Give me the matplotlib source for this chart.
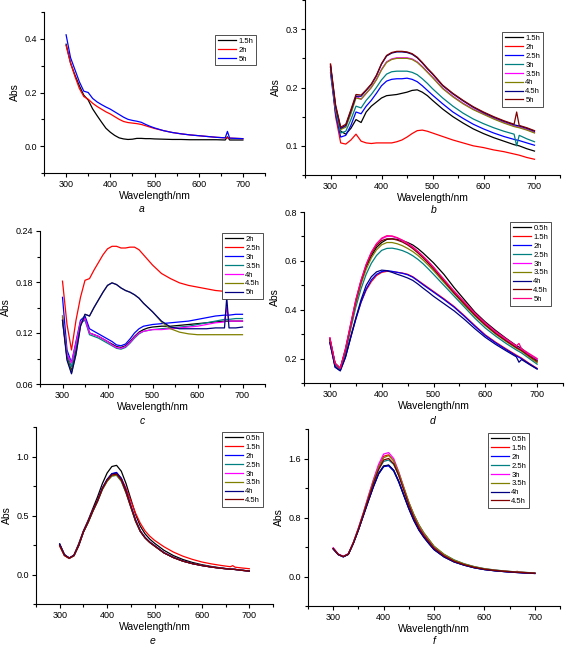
import matplotlib
matplotlib.use('Agg')
import matplotlib.pyplot as plt
from matplotlib.ticker import MultipleLocator, FormatStrFormatter

plt.rcParams['font.family'] = ['Liberation Sans', 'DejaVu Sans']

# shared wavelength grid (nm)
wavelength = [300, 310, 320, 330, 340, 350, 360, 370, 380, 390, 400, 410, 420, 430, 440, 450, 460,
              470, 480, 490, 500, 520, 540, 560, 580, 600, 620, 640, 660, 665, 670, 685, 700]

# panel a
a_labels = ['1.5h', '2h', '5h']
a_15 = [0.38, 0.31, 0.265, 0.225, 0.19, 0.172, 0.139, 0.114, 0.09, 0.067, 0.052, 0.04, 0.031, 0.027, 0.025, 0.026, 0.029,
        0.029, 0.028, 0.028, 0.027, 0.026, 0.025, 0.025, 0.024, 0.024, 0.024, 0.024, 0.023, 0.035, 0.023, 0.023, 0.023]
a_2 = [0.375, 0.31, 0.26, 0.215, 0.185, 0.175, 0.16, 0.148, 0.138, 0.128, 0.12, 0.11, 0.1, 0.092, 0.088, 0.086, 0.084,
       0.081, 0.076, 0.071, 0.066, 0.058, 0.051, 0.046, 0.042, 0.039, 0.036, 0.033, 0.031, 0.031, 0.03, 0.029, 0.028]
a_5 = [0.415, 0.33, 0.285, 0.24, 0.205, 0.2, 0.178, 0.165, 0.155, 0.146, 0.138, 0.128, 0.118, 0.108, 0.1, 0.096, 0.093,
       0.089, 0.081, 0.074, 0.068, 0.058, 0.051, 0.046, 0.042, 0.039, 0.036, 0.033, 0.031, 0.055, 0.03, 0.029, 0.028]

# panel b
b_labels = ['1.5h', '2h', '2.5h', '3h', '3.5h', '4h', '4.5h', '5h']
b_15 = [0.235, 0.16, 0.125, 0.12, 0.13, 0.145, 0.14, 0.158, 0.168, 0.175, 0.182, 0.186, 0.187, 0.188, 0.19, 0.192, 0.195,
        0.196, 0.192, 0.186, 0.178, 0.163, 0.15, 0.139, 0.129, 0.121, 0.114, 0.108, 0.102, 0.101, 0.1, 0.095, 0.091]
b_2 = [0.24, 0.15, 0.105, 0.103, 0.11, 0.12, 0.108, 0.105, 0.104, 0.105, 0.105, 0.105, 0.105, 0.107, 0.11, 0.115, 0.121,
       0.126, 0.127, 0.125, 0.122, 0.116, 0.11, 0.105, 0.1, 0.097, 0.093, 0.09, 0.086, 0.085, 0.084, 0.08, 0.077]
b_25 = [0.225, 0.155, 0.115, 0.118, 0.135, 0.158, 0.155, 0.168, 0.178, 0.19, 0.203, 0.211, 0.214, 0.215, 0.215, 0.216, 0.214,
        0.21, 0.203, 0.195, 0.187, 0.172, 0.158, 0.147, 0.137, 0.129, 0.122, 0.116, 0.111, 0.11, 0.109, 0.105, 0.101]
b_3 = [0.23, 0.16, 0.122, 0.125, 0.145, 0.168, 0.165, 0.178, 0.188, 0.2, 0.213, 0.223, 0.227, 0.228, 0.228, 0.228, 0.226,
       0.222, 0.215, 0.207, 0.198, 0.182, 0.168, 0.156, 0.146, 0.138, 0.131, 0.125, 0.12, 0.1, 0.118, 0.112, 0.107]
b_35 = [0.235, 0.165, 0.13, 0.133, 0.157, 0.185, 0.18, 0.19, 0.2, 0.214, 0.231, 0.244, 0.249, 0.251, 0.251, 0.251, 0.249,
        0.244, 0.236, 0.227, 0.218, 0.199, 0.185, 0.173, 0.163, 0.155, 0.147, 0.14, 0.134, 0.133, 0.132, 0.128, 0.123]
b_4 = [0.235, 0.165, 0.128, 0.132, 0.155, 0.182, 0.18, 0.19, 0.2, 0.213, 0.23, 0.243, 0.248, 0.25, 0.25, 0.25, 0.248,
       0.243, 0.235, 0.226, 0.217, 0.198, 0.184, 0.172, 0.162, 0.154, 0.146, 0.139, 0.133, 0.132, 0.131, 0.127, 0.122]
b_45 = [0.238, 0.168, 0.13, 0.135, 0.16, 0.185, 0.185, 0.195, 0.205, 0.22, 0.24, 0.254, 0.259, 0.261, 0.261, 0.26, 0.257,
        0.251, 0.242, 0.232, 0.223, 0.203, 0.189, 0.177, 0.166, 0.157, 0.149, 0.142, 0.136, 0.135, 0.134, 0.13, 0.125]
b_5 = [0.24, 0.17, 0.132, 0.137, 0.162, 0.188, 0.187, 0.196, 0.206, 0.221, 0.241, 0.255, 0.26, 0.262, 0.262, 0.261, 0.258,
       0.252, 0.243, 0.233, 0.224, 0.204, 0.19, 0.178, 0.167, 0.158, 0.15, 0.143, 0.137, 0.158, 0.135, 0.131, 0.126]

# panel c
c_labels = ['2h', '2.5h', '3h', '3.5h', '4h', '4.5h', '5h']
c_2 = [0.135, 0.092, 0.075, 0.1, 0.13, 0.138, 0.12, 0.118, 0.116, 0.113, 0.11, 0.107, 0.104, 0.103, 0.105, 0.11, 0.116,
       0.121, 0.124, 0.126, 0.127, 0.128, 0.128, 0.129, 0.13, 0.131, 0.132, 0.133, 0.134, 0.134, 0.134, 0.134, 0.134]
c_25 = [0.181, 0.13, 0.1, 0.135, 0.162, 0.182, 0.184, 0.194, 0.203, 0.212, 0.219, 0.222, 0.222, 0.22, 0.22, 0.221, 0.221,
        0.218, 0.212, 0.206, 0.2, 0.19, 0.184, 0.179, 0.176, 0.174, 0.172, 0.17, 0.169, 0.169, 0.169, 0.168, 0.168]
c_3 = [0.162, 0.1, 0.085, 0.11, 0.135, 0.14, 0.125, 0.122, 0.119, 0.116, 0.113, 0.11, 0.106, 0.105, 0.107, 0.113, 0.12,
       0.125, 0.128, 0.129, 0.13, 0.131, 0.132, 0.133, 0.134, 0.136, 0.138, 0.14, 0.141, 0.141, 0.141, 0.142, 0.142]
c_35 = [0.138, 0.095, 0.08, 0.105, 0.132, 0.135, 0.118, 0.116, 0.114, 0.111, 0.108, 0.105, 0.102, 0.101, 0.103, 0.108, 0.114,
        0.119, 0.122, 0.123, 0.124, 0.125, 0.126, 0.127, 0.128, 0.13, 0.132, 0.134, 0.136, 0.136, 0.136, 0.137, 0.137]
c_4 = [0.14, 0.095, 0.085, 0.108, 0.133, 0.137, 0.12, 0.118, 0.116, 0.113, 0.11, 0.106, 0.103, 0.102, 0.104, 0.109, 0.115,
       0.12, 0.122, 0.123, 0.124, 0.124, 0.125, 0.126, 0.127, 0.128, 0.13, 0.132, 0.133, 0.15, 0.134, 0.134, 0.134]
c_45 = [0.14, 0.09, 0.073, 0.095, 0.128, 0.142, 0.14, 0.15, 0.159, 0.168, 0.176, 0.179, 0.177, 0.173, 0.17, 0.168, 0.165,
        0.161, 0.155, 0.15, 0.145, 0.133, 0.125, 0.121, 0.119, 0.118, 0.118, 0.118, 0.118, 0.118, 0.118, 0.118, 0.118]
c_5 = [0.135, 0.088, 0.072, 0.095, 0.128, 0.142, 0.14, 0.15, 0.159, 0.168, 0.176, 0.179, 0.177, 0.173, 0.17, 0.168, 0.165,
       0.161, 0.155, 0.15, 0.145, 0.134, 0.127, 0.125, 0.125, 0.125, 0.125, 0.126, 0.126, 0.162, 0.126, 0.126, 0.127]

# panel d
d_labels = ['0.5h', '1.5h', '2h', '2.5h', '3h', '3.5h', '4h', '4.5h', '5h']
d_05 = [0.28, 0.18, 0.16, 0.23, 0.33, 0.43, 0.51, 0.575, 0.62, 0.655, 0.675, 0.688, 0.69, 0.688, 0.683, 0.675, 0.665,
        0.65, 0.632, 0.612, 0.592, 0.545, 0.49, 0.44, 0.39, 0.35, 0.315, 0.283, 0.253, 0.247, 0.241, 0.215, 0.193]
d_15 = [0.27, 0.17, 0.155, 0.21, 0.29, 0.365, 0.43, 0.48, 0.515, 0.54, 0.553, 0.557, 0.556, 0.553, 0.55, 0.545, 0.535,
        0.52, 0.505, 0.49, 0.475, 0.445, 0.413, 0.375, 0.335, 0.297, 0.267, 0.24, 0.214, 0.208, 0.202, 0.18, 0.16]
d_2 = [0.265, 0.165, 0.15, 0.205, 0.285, 0.36, 0.43, 0.485, 0.522, 0.545, 0.556, 0.56, 0.557, 0.553, 0.549, 0.543, 0.533,
       0.518, 0.502, 0.487, 0.472, 0.442, 0.41, 0.372, 0.332, 0.294, 0.264, 0.237, 0.211, 0.205, 0.199, 0.178, 0.158]
d_25 = [0.275, 0.175, 0.155, 0.225, 0.32, 0.41, 0.485, 0.545, 0.59, 0.622, 0.643, 0.651, 0.652, 0.648, 0.642, 0.633, 0.621,
        0.606, 0.588, 0.567, 0.545, 0.5, 0.455, 0.41, 0.365, 0.325, 0.292, 0.262, 0.235, 0.229, 0.223, 0.2, 0.177]
d_3 = [0.285, 0.18, 0.16, 0.24, 0.34, 0.44, 0.52, 0.585, 0.635, 0.67, 0.69, 0.7, 0.7, 0.693, 0.683, 0.67, 0.655,
       0.636, 0.616, 0.595, 0.572, 0.522, 0.472, 0.427, 0.382, 0.342, 0.307, 0.277, 0.248, 0.242, 0.236, 0.216, 0.197]
d_35 = [0.28, 0.18, 0.158, 0.235, 0.33, 0.425, 0.505, 0.565, 0.612, 0.645, 0.666, 0.675, 0.675, 0.67, 0.662, 0.651, 0.638,
        0.622, 0.603, 0.582, 0.56, 0.512, 0.465, 0.418, 0.374, 0.335, 0.3, 0.27, 0.242, 0.236, 0.23, 0.206, 0.183]
d_4 = [0.265, 0.165, 0.15, 0.205, 0.285, 0.365, 0.44, 0.5, 0.535, 0.555, 0.562, 0.56, 0.553, 0.545, 0.538, 0.53, 0.52,
       0.505, 0.488, 0.472, 0.455, 0.425, 0.395, 0.36, 0.322, 0.287, 0.258, 0.232, 0.207, 0.185, 0.196, 0.176, 0.157]
d_45 = [0.28, 0.18, 0.16, 0.235, 0.335, 0.435, 0.515, 0.58, 0.63, 0.663, 0.683, 0.69, 0.69, 0.685, 0.677, 0.665, 0.65,
        0.632, 0.612, 0.59, 0.567, 0.518, 0.468, 0.423, 0.378, 0.338, 0.303, 0.273, 0.245, 0.239, 0.233, 0.21, 0.188]
d_5 = [0.285, 0.18, 0.16, 0.24, 0.34, 0.44, 0.52, 0.585, 0.635, 0.67, 0.693, 0.703, 0.702, 0.695, 0.685, 0.672, 0.657,
       0.639, 0.619, 0.598, 0.575, 0.525, 0.476, 0.431, 0.386, 0.346, 0.311, 0.281, 0.252, 0.262, 0.24, 0.22, 0.2]

# panel e
e_labels = ['0.5h', '1.5h', '2h', '2.5h', '3h', '3.5h', '4h', '4.5h']
e_05 = [0.26, 0.17, 0.138, 0.165, 0.26, 0.37, 0.46, 0.56, 0.66, 0.77, 0.86, 0.915, 0.925, 0.875, 0.77, 0.64, 0.51,
        0.41, 0.345, 0.3, 0.265, 0.205, 0.16, 0.127, 0.102, 0.083, 0.068, 0.056, 0.046, 0.044, 0.042, 0.036, 0.03]
e_15 = [0.24, 0.16, 0.135, 0.16, 0.25, 0.365, 0.45, 0.545, 0.63, 0.73, 0.8, 0.845, 0.855, 0.815, 0.73, 0.625, 0.52,
        0.435, 0.37, 0.325, 0.29, 0.235, 0.19, 0.155, 0.128, 0.106, 0.09, 0.077, 0.066, 0.075, 0.062, 0.055, 0.049]
e_2 = [0.255, 0.165, 0.14, 0.16, 0.245, 0.36, 0.445, 0.54, 0.625, 0.73, 0.805, 0.855, 0.865, 0.815, 0.71, 0.585, 0.465,
       0.37, 0.315, 0.275, 0.245, 0.185, 0.145, 0.115, 0.093, 0.077, 0.064, 0.054, 0.046, 0.045, 0.044, 0.036, 0.03]
e_25 = [0.25, 0.165, 0.14, 0.16, 0.245, 0.36, 0.44, 0.535, 0.62, 0.72, 0.79, 0.835, 0.84, 0.79, 0.69, 0.57, 0.45,
        0.365, 0.31, 0.272, 0.242, 0.183, 0.143, 0.113, 0.092, 0.076, 0.063, 0.053, 0.045, 0.044, 0.043, 0.035, 0.029]
e_3 = [0.25, 0.165, 0.14, 0.16, 0.245, 0.36, 0.445, 0.54, 0.625, 0.728, 0.8, 0.848, 0.855, 0.805, 0.7, 0.578, 0.458,
       0.368, 0.312, 0.273, 0.243, 0.184, 0.144, 0.114, 0.092, 0.076, 0.063, 0.053, 0.045, 0.044, 0.043, 0.035, 0.029]
e_35 = [0.245, 0.162, 0.138, 0.158, 0.243, 0.358, 0.44, 0.535, 0.62, 0.72, 0.79, 0.835, 0.843, 0.793, 0.692, 0.572, 0.452,
        0.365, 0.31, 0.271, 0.241, 0.183, 0.143, 0.113, 0.092, 0.076, 0.063, 0.053, 0.045, 0.044, 0.043, 0.035, 0.029]
e_4 = [0.255, 0.167, 0.14, 0.162, 0.248, 0.362, 0.448, 0.543, 0.628, 0.732, 0.805, 0.853, 0.86, 0.81, 0.705, 0.58, 0.46,
       0.368, 0.313, 0.274, 0.244, 0.184, 0.144, 0.114, 0.092, 0.076, 0.063, 0.053, 0.045, 0.044, 0.043, 0.035, 0.029]
e_45 = [0.245, 0.162, 0.138, 0.16, 0.245, 0.36, 0.445, 0.54, 0.625, 0.725, 0.797, 0.843, 0.85, 0.8, 0.697, 0.575, 0.455,
        0.366, 0.311, 0.272, 0.242, 0.183, 0.143, 0.113, 0.092, 0.076, 0.063, 0.053, 0.045, 0.044, 0.043, 0.035, 0.029]

# panel f
f_labels = ['0.5h', '1.5h', '2h', '2.5h', '3h', '3.5h', '4h', '4.5h']
f_05 = [0.38, 0.3, 0.27, 0.3, 0.45, 0.63, 0.83, 1.03, 1.23, 1.4, 1.5, 1.51, 1.44, 1.29, 1.11, 0.93, 0.77,
        0.64, 0.54, 0.45, 0.37, 0.27, 0.2, 0.155, 0.12, 0.095, 0.079, 0.067, 0.057, 0.055, 0.053, 0.047, 0.042]
f_15 = [0.38, 0.3, 0.27, 0.305, 0.46, 0.65, 0.86, 1.08, 1.3, 1.49, 1.63, 1.65, 1.57, 1.4, 1.2, 1.0, 0.83,
        0.69, 0.58, 0.49, 0.4, 0.29, 0.215, 0.165, 0.128, 0.102, 0.085, 0.072, 0.061, 0.07, 0.058, 0.052, 0.046]
f_2 = [0.37, 0.295, 0.265, 0.3, 0.45, 0.63, 0.83, 1.03, 1.22, 1.39, 1.49, 1.5, 1.43, 1.28, 1.1, 0.92, 0.76,
       0.63, 0.53, 0.445, 0.365, 0.265, 0.197, 0.153, 0.118, 0.094, 0.078, 0.066, 0.056, 0.054, 0.052, 0.046, 0.041]
f_25 = [0.38, 0.3, 0.27, 0.305, 0.455, 0.64, 0.845, 1.06, 1.27, 1.45, 1.56, 1.58, 1.52, 1.37, 1.19, 1.0, 0.84,
        0.7, 0.59, 0.5, 0.41, 0.3, 0.225, 0.172, 0.134, 0.107, 0.089, 0.075, 0.064, 0.062, 0.06, 0.054, 0.048]
f_3 = [0.39, 0.305, 0.275, 0.31, 0.465, 0.66, 0.87, 1.1, 1.32, 1.52, 1.66, 1.68, 1.6, 1.42, 1.21, 1.0, 0.83,
       0.69, 0.58, 0.49, 0.4, 0.29, 0.215, 0.165, 0.128, 0.102, 0.085, 0.072, 0.061, 0.059, 0.057, 0.051, 0.045]
f_35 = [0.38, 0.3, 0.27, 0.305, 0.46, 0.65, 0.86, 1.08, 1.3, 1.48, 1.61, 1.64, 1.57, 1.41, 1.21, 1.01, 0.84,
        0.7, 0.59, 0.5, 0.41, 0.3, 0.222, 0.17, 0.132, 0.105, 0.087, 0.074, 0.063, 0.061, 0.059, 0.053, 0.047]
f_4 = [0.375, 0.298, 0.268, 0.3, 0.45, 0.63, 0.83, 1.03, 1.22, 1.39, 1.49, 1.51, 1.44, 1.29, 1.1, 0.92, 0.76,
       0.63, 0.53, 0.445, 0.365, 0.265, 0.197, 0.153, 0.118, 0.094, 0.078, 0.066, 0.056, 0.054, 0.052, 0.046, 0.041]
f_45 = [0.38, 0.3, 0.27, 0.303, 0.455, 0.64, 0.85, 1.06, 1.27, 1.45, 1.58, 1.6, 1.53, 1.37, 1.17, 0.97, 0.8,
        0.66, 0.555, 0.47, 0.385, 0.28, 0.207, 0.16, 0.124, 0.099, 0.082, 0.07, 0.06, 0.058, 0.056, 0.05, 0.044]

# Origin-like default line colours
origin_colors = ['#000000', '#ff0000', '#0000ff', '#008080', '#ff00ff', '#808000', '#000080', '#800000', '#ff0080']

W, H = 565, 647
fig = plt.figure(figsize=(W / 100, H / 100), dpi=100)


def px_axes(left, top, right, bottom):
    return fig.add_axes([left / W, 1 - bottom / H, (right - left) / W, (bottom - top) / H])


panels = [
    # letter, box (px), ylim, major, minor, fmt, series, labels, legend top-left (px), letter pos
    ('a', (44, 12, 265, 173), (-0.1, 0.5), 0.2, 0.1, '%.1f', [a_15, a_2, a_5], a_labels, (215, 35), (142, 209)),
    ('b', (305, 0, 560, 175), (0.05, 0.35), 0.1, 0.05, '%.1f',
     [b_15, b_2, b_25, b_3, b_35, b_4, b_45, b_5], b_labels, (502, 32), (434, 210)),
    ('c', (40, 231, 265, 384), (0.06, 0.24), 0.06, 0.03, '%.2f',
     [c_2, c_25, c_3, c_35, c_4, c_45, c_5], c_labels, (222, 233), (142, 421)),
    ('d', (304, 212, 563, 383), (0.1, 0.8), 0.2, 0.1, '%.1f',
     [d_05, d_15, d_2, d_25, d_3, d_35, d_4, d_45, d_5], d_labels, (510, 222), (433, 421)),
    ('e', (36, 427, 273, 604), (-0.25, 1.25), 0.5, 0.25, '%.1f',
     [e_05, e_15, e_2, e_25, e_3, e_35, e_4, e_45], e_labels, (222, 432), (153, 641)),
    ('f', (308, 429, 560, 606), (-0.4, 2.0), 0.8, 0.4, '%.1f',
     [f_05, f_15, f_2, f_25, f_3, f_35, f_4, f_45], f_labels, (488, 433), (434, 641)),
]

for letter, box, ylim, ymaj, ymin, fmt, series, labels, leg_pos, let_pos in panels:
    ax = px_axes(*box)
    for ys, lab, col in zip(series, labels, origin_colors):
        ax.plot(wavelength, ys, color=col, lw=0.9, label=lab)

    ax.set_xlim(250, 750)
    ax.set_ylim(*ylim)
    ax.xaxis.set_major_locator(MultipleLocator(100))
    ax.xaxis.set_minor_locator(MultipleLocator(50))
    ax.yaxis.set_major_locator(MultipleLocator(ymaj))
    ax.yaxis.set_minor_locator(MultipleLocator(ymin))
    ax.yaxis.set_major_formatter(FormatStrFormatter(fmt))

    for side in ['top', 'right']:
        ax.spines[side].set_visible(False)
    for side in ['left', 'bottom']:
        ax.spines[side].set_linewidth(0.8)
    ax.tick_params(which='major', direction='out', length=3, width=0.8, labelsize=6.5, pad=2)
    ax.tick_params(which='minor', direction='out', length=2, width=0.8)

    ax.set_xlabel('Wavelength/nm', fontsize=7.5, labelpad=1.5)
    ax.set_ylabel('Abs', fontsize=7.5, labelpad=3)

    leg = ax.legend(loc='upper left', bbox_to_anchor=(leg_pos[0] / W, 1 - leg_pos[1] / H),
                    bbox_transform=fig.transFigure, borderaxespad=0, fontsize=5.5,
                    handlelength=2.4, handletextpad=0.3, labelspacing=0.2, borderpad=0.35,
                    fancybox=False, framealpha=1)
    leg.get_frame().set_edgecolor('#333333')
    leg.get_frame().set_linewidth(0.6)

    fig.text(let_pos[0] / W, 1 - let_pos[1] / H, letter, fontsize=7.5, style='italic',
             ha='center', va='center')

fig.savefig('out.png', dpi=100)
